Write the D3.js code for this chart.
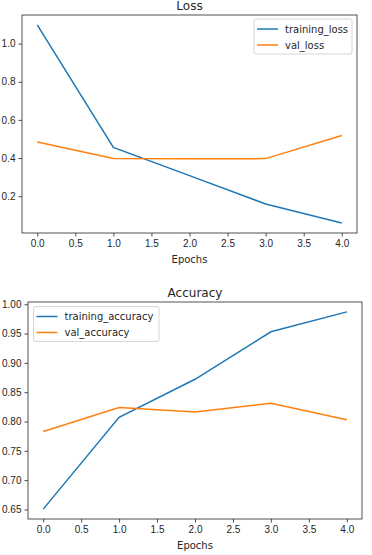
<!DOCTYPE html>
<html>
<head>
<meta charset="utf-8">
<script src="https://cdn.jsdelivr.net/npm/d3@7"></script>
<style>
  body { margin: 0; background: #fff; }
  svg { display: block; font-family: "DejaVu Sans", sans-serif; }
  .tick text { font-size: 10px; fill: #262626; }
</style>
</head>
<body>
<div class="container"></div>
<script>
const epochs = [0, 1, 2, 3, 4];
const trainingLoss = [1.098, 0.456, 0.308, 0.159, 0.059];
const valLoss = [0.484, 0.398, 0.396, 0.397, 0.518];
const trainingAccuracy = [0.6505, 0.807, 0.872, 0.953, 0.987];
const valAccuracy = [0.783, 0.824, 0.816, 0.831, 0.803];
const xTicks = [0, 0.5, 1, 1.5, 2, 2.5, 3, 3.5, 4];
const lossTicks = [0.2, 0.4, 0.6, 0.8, 1.0];
const accTicks = [0.65, 0.70, 0.75, 0.80, 0.85, 0.90, 0.95, 1.00];
const colors = ['#1f77b4', '#ff7f0e'];

const svg = d3.select('.container')
    .append('svg')
    .attr('width', 372)
    .attr('height', 555);

// matplotlib style 5% margins around the data
function padded(vals) {
    const [lo, hi] = d3.extent(vals);
    const m = (hi - lo) * 0.05;
    return [lo - m, hi + m];
}

function drawPanel(opt) {
    const { left, right, top, bottom } = opt.box;
    const x = d3.scaleLinear().domain(padded(epochs)).range([left, right]);
    const y = d3.scaleLinear().domain(padded(opt.series[0].concat(opt.series[1]))).range([bottom, top]);

    const g = svg.append('g');

    const xAxis = g.append('g')
        .attr('transform', `translate(0,${bottom})`)
        .call(d3.axisBottom(x).tickValues(xTicks).tickFormat(d3.format('.1f')).tickSize(3.5).tickPadding(3));
    const yAxis = g.append('g')
        .attr('transform', `translate(${left},0)`)
        .call(d3.axisLeft(y).tickValues(opt.yTicks).tickFormat(d3.format(opt.yFormat)).tickSize(3.5).tickPadding(3));
    [xAxis, yAxis].forEach(a => {
        a.select('.domain').remove();
        a.selectAll('.tick line').attr('stroke', '#262626').attr('stroke-width', 0.8);
    });

    const line = d3.line().x((d, i) => x(epochs[i])).y(d => y(d));
    opt.series.forEach((s, i) => {
        g.append('path')
            .datum(s)
            .attr('fill', 'none')
            .attr('stroke', colors[i])
            .attr('stroke-width', 1.5)
            .attr('d', line);
    });

    g.append('rect')
        .attr('x', left).attr('y', top)
        .attr('width', right - left).attr('height', bottom - top)
        .attr('fill', 'none')
        .attr('stroke', '#262626')
        .attr('stroke-width', 0.8);

    g.append('text')
        .attr('x', (left + right) / 2)
        .attr('y', top - 5)
        .attr('text-anchor', 'middle')
        .attr('font-size', 12)
        .attr('fill', '#262626')
        .text(opt.title);

    g.append('text')
        .attr('x', (left + right) / 2)
        .attr('y', bottom + 30)
        .attr('text-anchor', 'middle')
        .attr('font-size', 10)
        .attr('fill', '#262626')
        .text('Epochs');

    // legend
    const lg = opt.legend;
    const leg = g.append('g').attr('transform', `translate(${lg.x},${lg.y})`);
    leg.append('rect')
        .attr('width', lg.w).attr('height', 35)
        .attr('rx', 2)
        .attr('fill', 'white').attr('fill-opacity', 0.8)
        .attr('stroke', '#cccccc').attr('stroke-width', 0.8);
    opt.labels.forEach((label, i) => {
        const ly = 10 + i * 16;
        leg.append('line')
            .attr('x1', 3).attr('x2', 24)
            .attr('y1', ly).attr('y2', ly)
            .attr('stroke', colors[i]).attr('stroke-width', 1.5);
        leg.append('text')
            .attr('x', 31).attr('y', ly + 3.5)
            .attr('font-size', 10)
            .attr('fill', '#262626')
            .text(label);
    });
}

drawPanel({
    box: { left: 22, right: 357, top: 15, bottom: 233 },
    series: [trainingLoss, valLoss],
    yTicks: lossTicks,
    yFormat: '.1f',
    title: 'Loss',
    labels: ['training_loss', 'val_loss'],
    legend: { x: 254, y: 19, w: 98 }
});

drawPanel({
    box: { left: 28, right: 362, top: 302, bottom: 519 },
    series: [trainingAccuracy, valAccuracy],
    yTicks: accTicks,
    yFormat: '.2f',
    title: 'Accuracy',
    labels: ['training_accuracy', 'val_accuracy'],
    legend: { x: 33.5, y: 306.5, w: 125.5 }
});
</script>
</body>
</html>
